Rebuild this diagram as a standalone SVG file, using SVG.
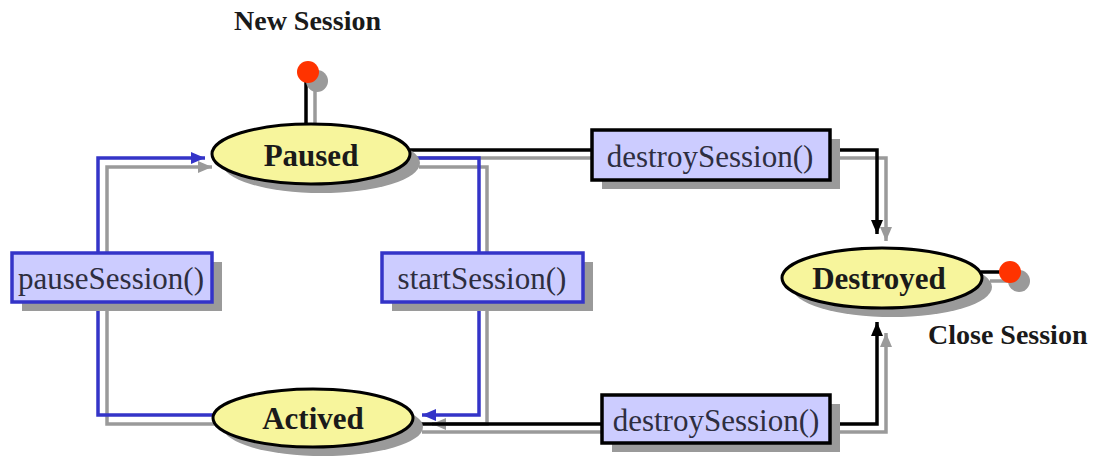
<svg xmlns="http://www.w3.org/2000/svg" width="1096" height="460" viewBox="0 0 1096 460">
<style>
.st{fill:#f7f59c;stroke:#000;stroke-width:3}
.sh{fill:#9a9a9a}
.box{fill:#ccccff;stroke-width:3.5}
.bk{stroke:#000}
.bl{stroke:#3434c8}
.stxt{font-family:"Liberation Serif",serif;font-weight:bold;font-size:31px;fill:#1a1a1a;text-anchor:middle}
.ltxt{font-family:"Liberation Serif",serif;font-size:31px;fill:#2e2e40;text-anchor:middle}
.ttl{font-family:"Liberation Serif",serif;font-weight:bold;font-size:28px;fill:#1a1a1a}
.c{fill:none;stroke-width:3.5}
.cblack{stroke:#000}
.cblue{stroke:#3434c8}
.cgray{stroke:#9a9a9a}
</style>
<defs>
<marker id="aBlack" markerUnits="userSpaceOnUse" markerWidth="16" markerHeight="14" refX="14" refY="7" orient="auto"><path d="M0,1 L14,7 L0,13 Z" fill="#000"/></marker>
<marker id="aBlue" markerUnits="userSpaceOnUse" markerWidth="16" markerHeight="14" refX="14" refY="7" orient="auto"><path d="M0,1 L14,7 L0,13 Z" fill="#3434c8"/></marker>
<marker id="aGray" markerUnits="userSpaceOnUse" markerWidth="16" markerHeight="14" refX="14" refY="7" orient="auto"><path d="M0,1 L14,7 L0,13 Z" fill="#9a9a9a"/></marker>
</defs>
<rect width="1096" height="460" fill="#fff"/>
<text class="ttl" x="234" y="30">New Session</text>
<text class="ttl" x="928" y="344">Close Session</text>
<g id="connectors">
<g class="c cgray">
<path d="M222,424 H107 V167 H212" marker-end="url(#aGray)"/>
<path d="M419,167 H487 V424 H432" marker-end="url(#aGray)"/>
<path d="M419,158 H886 V241" marker-end="url(#aGray)"/>
<path d="M422,432 H886 V333" marker-end="url(#aGray)"/>
<path d="M315,82 V128"/>
<path d="M990,281 H1019"/>
</g>
<path class="c cblack" d="M410,150 H877 V234" marker-end="url(#aBlack)"/>
<path class="c cblack" d="M413,424 H877 V322" marker-end="url(#aBlack)"/>
<path class="c cblue" d="M213,415 H98 V158 H205" marker-end="url(#aBlue)"/>
<path class="c cblue" d="M410,158 H479 V415 H422" marker-end="url(#aBlue)"/>
<path class="c cblack" d="M306,72 V125"/>
<path class="c cblack" d="M981,272 H1010"/>
</g>
<g id="start">
<circle class="sh" cx="317" cy="81" r="11"/>
<circle cx="308" cy="72" r="11" fill="#ff3300"/>
</g>
<g id="end">
<circle class="sh" cx="1019" cy="281" r="11"/>
<circle cx="1010" cy="272" r="11" fill="#ff3300"/>
</g>
<g id="paused">
<ellipse class="sh" cx="321" cy="163" rx="99" ry="30"/>
<ellipse class="st" cx="311" cy="154" rx="99" ry="30"/>
<text class="stxt" x="311" y="166">Paused</text>
</g>
<g id="actived">
<ellipse class="sh" cx="323" cy="427" rx="100" ry="29"/>
<ellipse class="st" cx="313" cy="418" rx="100" ry="29"/>
<text class="stxt" x="313" y="429">Actived</text>
</g>
<g id="destroyed">
<ellipse class="sh" cx="892" cy="287" rx="100" ry="30"/>
<ellipse class="st" cx="882" cy="278" rx="100" ry="30"/>
<text class="stxt" x="879" y="289">Destroyed</text>
</g>
<g id="pauseSession">
<rect class="sh" x="22" y="262" width="200" height="49"/>
<rect class="box bl" x="12" y="253" width="200" height="49"/>
<text class="ltxt" x="111" y="289">pauseSession()</text>
</g>
<g id="startSession">
<rect class="sh" x="392" y="262" width="201" height="49"/>
<rect class="box bl" x="382" y="253" width="201" height="49"/>
<text class="ltxt" x="482" y="289">startSession()</text>
</g>
<g id="destroySession1">
<rect class="sh" x="602" y="139" width="238" height="50"/>
<rect class="box bk" x="592" y="130" width="238" height="50"/>
<text class="ltxt" x="710" y="167">destroySession()</text>
</g>
<g id="destroySession2">
<rect class="sh" x="612" y="404" width="228" height="48"/>
<rect class="box bk" x="602" y="395" width="228" height="48"/>
<text class="ltxt" x="716" y="431">destroySession()</text>
</g>
</svg>
